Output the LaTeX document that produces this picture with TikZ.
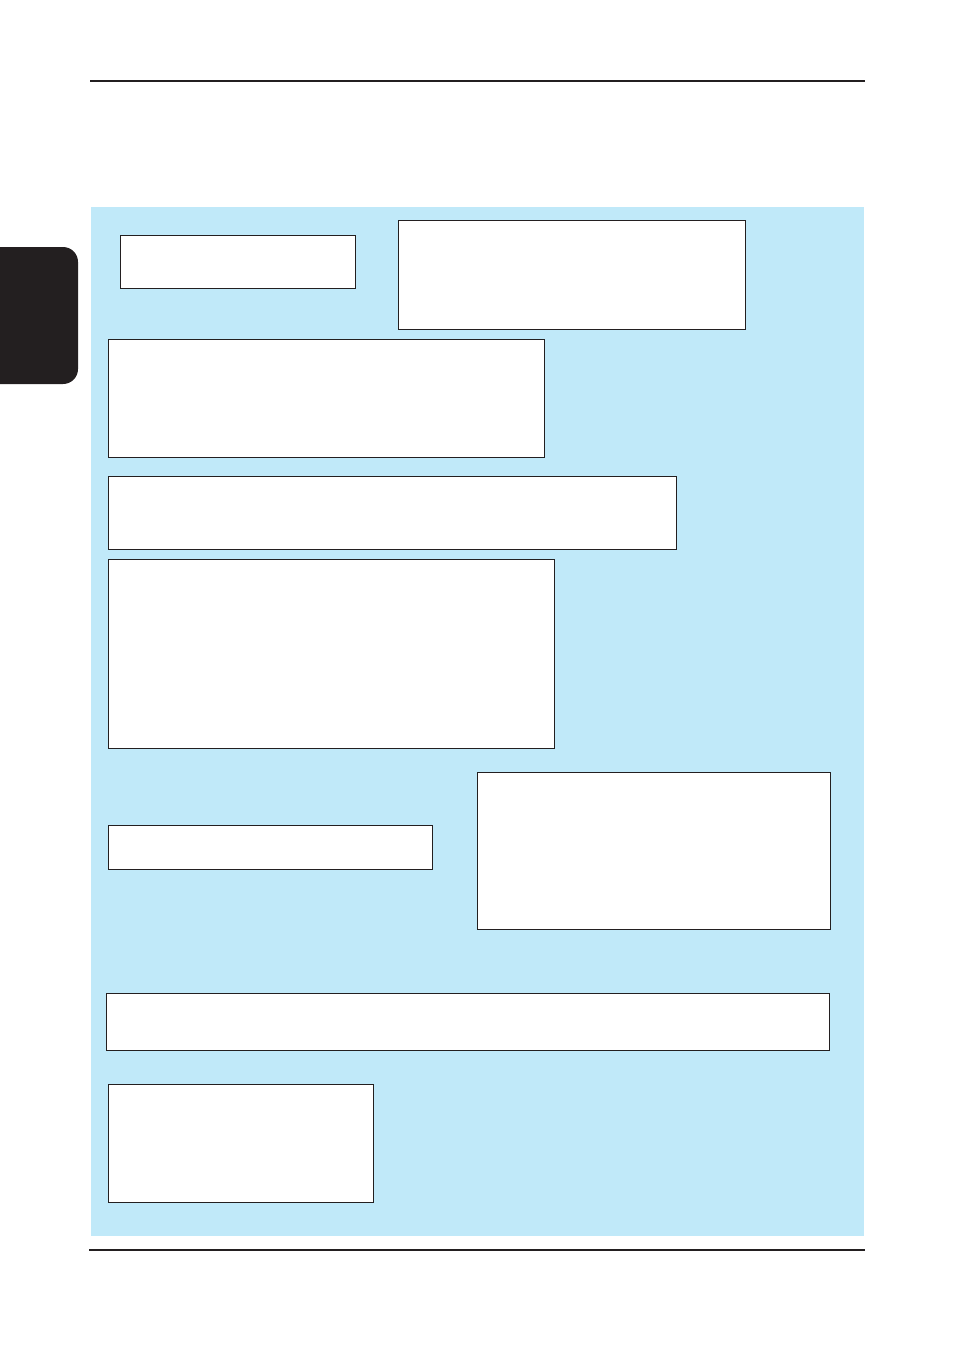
\documentclass[tikz,border=0pt]{standalone}
\usepackage{tikz}
\usetikzlibrary{
  positioning,
  fit
}
\definecolor{panelblue}{RGB}{192,233,249}
\definecolor{tabblack}{RGB}{35,31,32}

\begin{document}
\begin{tikzpicture}[x=0.02cm,y=-0.02cm,
    panelbox/.style={draw=tabblack,fill=white,line width=0.45pt,inner sep=0pt}]
  \useasboundingbox (0,0) rectangle (954,1350);
  \draw[tabblack,line width=0.6pt] (90,81) -- (865,81);
  \begin{scope}
    \clip (0,0) rectangle (954,1350);
    \fill[tabblack,rounded corners=8.5pt] (-30,247) rectangle (78,384);
  \end{scope}
  \node (panel) [fill=panelblue,inner sep=0pt,fit={(91,207) (864,1236)}] {};
  \node (bxA) [panelbox,fit={(120,235) (355,288)}] {};
  \node (bxB) [panelbox,fit={(398,220) (745,329)}] {};
  \node (bxC) [panelbox,fit={(108,339) (544,457)}] {};
  \node (bxD) [panelbox,fit={(108,476) (676,549)}] {};
  \node (bxE) [panelbox,fit={(108,559) (554,748)}] {};
  \node (bxF) [panelbox,fit={(108,825) (432,869)}] {};
  \node (bxG) [panelbox,fit={(477,772) (830,929)}] {};
  \node (bxH) [panelbox,fit={(106,993) (829,1050)}] {};
  \node (bxI) [panelbox,fit={(108,1084) (373,1202)}] {};
  \draw[tabblack,line width=1.4pt] (89,1250) -- (865,1250);
\end{tikzpicture}
\end{document}
